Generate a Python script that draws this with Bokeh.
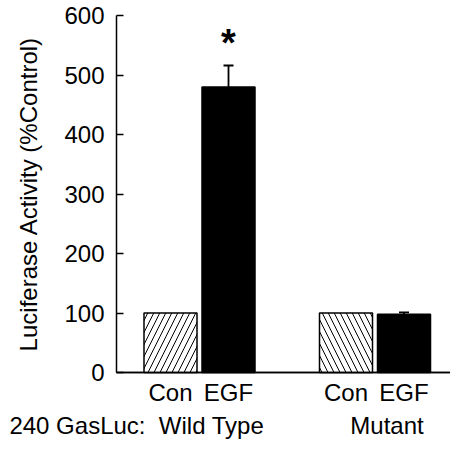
from bokeh.plotting import figure
from bokeh.models import (FactorRange, Range1d, ColumnDataSource, Whisker, TeeHead,
                          FixedTicker)
from bokeh.core.properties import value
from bokeh.embed import file_html
from bokeh.resources import INLINE

# ---- data ----
constructs = ["Wild Type", "Mutant"]
treatments = ["Con", "EGF"]
activity = [100, 480, 100, 98]          # % control
sem = [0, 36, 0, 3]                      # upper error
significance = ["", "*", "", ""]
y_ticks = [0, 100, 200, 300, 400, 500, 600]
caption = "240 GasLuc:"
y_label = "Luciferase Activity (%Control)"

# ---- layout / style constants ----
FONT = "Liberation Sans"
W, H = 450, 441
LEFT_PX = 6                # frame starts here
SLOT_PX = 58               # width of one bar slot
GROUP_PAD = 1.026          # gap between groups, in bar slots
X_PAD = 0.3017             # range padding, in bar slots
Y_AXIS_PX = 116            # where the value axis sits
Y_MIN, Y_MAX = 0, 600
PX_PER_UNIT = 0.595        # vertical scale (px per % unit)
AXIS_PX_FROM_BOTTOM = 69   # where the category axis baseline sits
TOP_PX = 15

factors = [(c, t) for c in constructs for t in treatments]
upper = [a + e for a, e in zip(activity, sem)]

# a blank leading slot makes room for the row caption left of the value axis
blank = ("", "")
n_t = len(treatments)
slots_end = 1 + len(constructs) * (n_t + GROUP_PAD)
y_axis_loc = (Y_AXIS_PX - LEFT_PX) / SLOT_PX - X_PAD

xr = FactorRange(blank, *factors, factor_padding=0.0, group_padding=GROUP_PAD,
                 range_padding=X_PAD, range_padding_units="absolute")
yr = Range1d(Y_MIN - AXIS_PX_FROM_BOTTOM / PX_PER_UNIT, Y_MAX + TOP_PX / PX_PER_UNIT)

fills = {"Con": "white", "EGF": "black"}
hatches = {"Wild Type": "/", "Mutant": "\\"}

src = ColumnDataSource(dict(
    x=factors,
    top=activity,
    fill=[fills[t] for c, t in factors],
    hatch=[(hatches[c] if t == "Con" else " ") for c, t in factors],
))

p = figure(x_range=xr, y_range=yr, width=W, height=H,
           output_backend="svg", toolbar_location=None,
           min_border_left=LEFT_PX, min_border_right=0, min_border_top=0, min_border_bottom=0)

# baseline continues to the right edge (clipped by the frame), as in the reference
p.segment(x0=[y_axis_loc], x1=[slots_end + 3], y0=[Y_MIN], y1=[Y_MIN],
          line_color="black", line_width=1.5)

p.vbar(x="x", top="top", bottom=0, width=0.914, source=src,
       fill_color="fill", line_color="black", line_width=1.5,
       hatch_pattern="hatch", hatch_color="black", hatch_scale=12, hatch_weight=1)

# error bars (upper only)
err_idx = [i for i, e in enumerate(sem) if e > 0]
err_src = ColumnDataSource(dict(
    x=[factors[i] for i in err_idx],
    lower=[activity[i] for i in err_idx],
    upper=[upper[i] for i in err_idx],
))
p.add_layout(Whisker(source=err_src, base="x", lower="lower", upper="upper",
                     line_color="black", line_width=1.8,
                     upper_head=TeeHead(size=10, line_color="black", line_width=1.8),
                     lower_head=None))

# significance marks
sig_src = ColumnDataSource(dict(x=factors, y=upper, text=significance))
p.text(x="x", y="y", text="text", source=sig_src, text_align="center",
       text_baseline="alphabetic", y_offset=-22,
       text_font=value(FONT), text_font_size="38px", text_font_style="bold",
       text_color="black")

# second row of category captions
cap_src = ColumnDataSource(dict(x=constructs, y=[0] * len(constructs), text=constructs))
p.text(x="x", y="y", text="text", source=cap_src, text_align="center",
       text_baseline="alphabetic", x_offset=12, y_offset=53,
       text_font=value(FONT), text_font_size="24px", text_color="black")
p.text(x=[constructs[0]], y=[0], text=[caption], text_align="right",
       text_baseline="alphabetic", x_offset=-54, y_offset=53,
       text_font=value(FONT), text_font_size="24px", text_color="black")

# axes
p.xgrid.visible = False
p.ygrid.visible = False
p.outline_line_color = None

yax = p.yaxis[0]
yax.fixed_location = y_axis_loc
yax.bounds = (Y_MIN, Y_MAX)
yax.ticker = FixedTicker(ticks=y_ticks)
yax.axis_label = y_label
yax.axis_label_text_font = FONT
yax.axis_label_text_font_size = "24px"
yax.axis_label_text_font_style = "normal"
yax.axis_label_text_color = "black"
yax.axis_label_standoff = 19
yax.major_label_text_font = FONT
yax.major_label_text_font_size = "24px"
yax.major_label_text_color = "black"
yax.major_label_standoff = 12
yax.major_tick_in = 7
yax.major_tick_out = 0
yax.major_tick_line_width = 1.5
yax.minor_tick_line_color = None
yax.axis_line_width = 1.5
yax.axis_line_color = "black"
yax.major_tick_line_color = "black"

xax = p.xaxis[0]
xax.fixed_location = 0
xax.bounds = (y_axis_loc, slots_end + X_PAD)
xax.major_tick_line_color = None
xax.minor_tick_line_color = None
xax.axis_line_width = 1.5
xax.axis_line_color = "black"
xax.major_label_text_font = FONT
xax.major_label_text_font_size = "24px"
xax.major_label_text_color = "black"
xax.major_label_standoff = 0
xax.group_text_font_size = "0px"
xax.group_text_color = None
xax.separator_line_color = None

open("out.html", "w").write(file_html(p, INLINE))
